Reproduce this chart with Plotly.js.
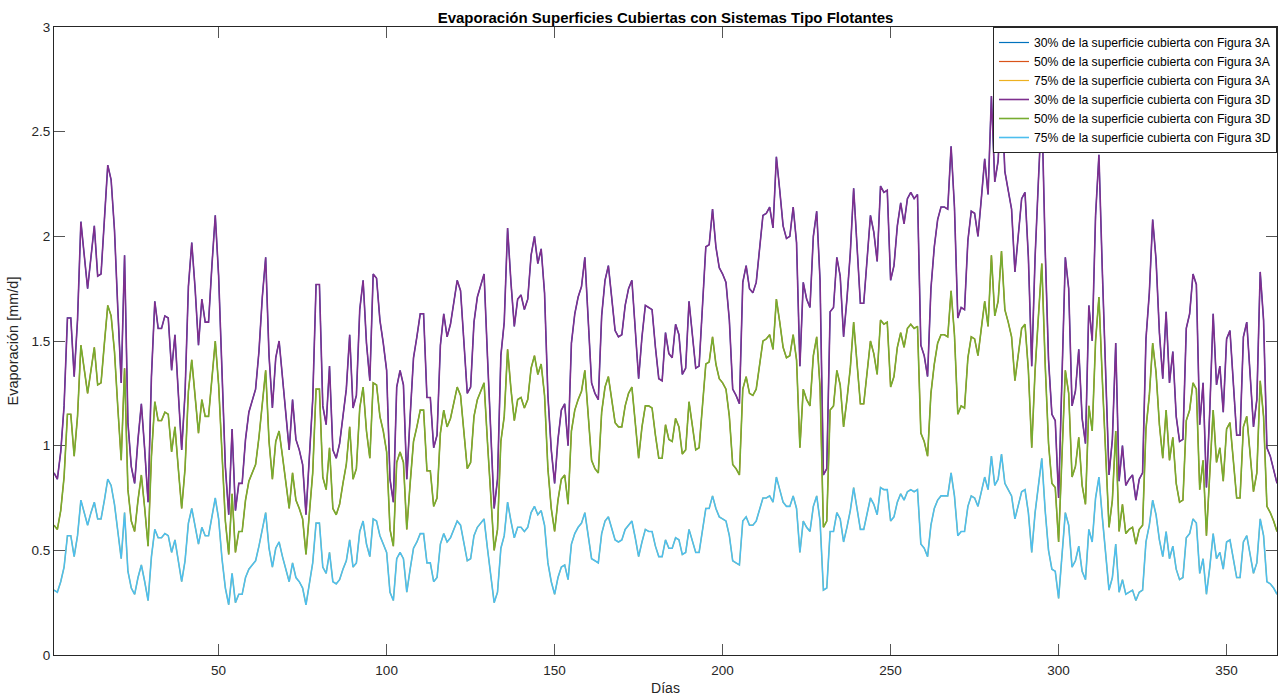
<!DOCTYPE html>
<html>
<head>
<meta charset="utf-8">
<script src="https://cdn.plot.ly/plotly-3.0.1.min.js"></script>
<style>
html,body{margin:0;padding:0;background:#fff;}
#chart{width:1285px;height:698px;}
</style>
</head>
<body>
<div id="chart"></div>
<script>
// Evaporation [mm/d], 30% covered surface
const evap30 = [
0.87,0.84,0.97,1.19,1.61,1.61,1.33,1.60,2.07,1.90,1.75,1.90,2.05,1.81,1.82,2.08,2.34,2.27,2.03,1.65,
1.30,1.91,1.11,0.90,0.82,1.03,1.20,0.98,0.73,1.33,1.69,1.56,1.56,1.62,1.61,1.36,1.53,1.25,0.98,1.25,
1.76,1.97,1.75,1.48,1.70,1.59,1.59,1.86,2.10,1.81,1.30,0.90,0.67,1.08,0.69,0.82,0.82,1.03,1.16,1.21,
1.27,1.45,1.71,1.90,1.43,1.18,1.42,1.50,1.33,1.14,0.98,1.22,1.03,0.98,0.91,0.67,0.97,1.22,1.77,1.77,
1.19,1.10,1.38,0.98,0.94,1.01,1.14,1.27,1.53,1.18,1.24,1.65,1.79,1.49,1.31,1.82,1.80,1.60,1.49,1.36,
0.84,0.73,1.28,1.36,1.29,0.84,1.14,1.42,1.52,1.63,1.63,1.23,1.23,0.99,1.05,1.48,1.63,1.52,1.58,1.69,
1.79,1.74,1.49,1.25,1.28,1.59,1.71,1.76,1.82,1.43,1.05,0.70,0.84,1.43,1.59,2.04,1.78,1.57,1.70,1.72,
1.65,1.70,1.91,2.00,1.87,1.94,1.73,1.24,0.98,0.82,1.03,1.17,1.20,1.00,1.49,1.63,1.71,1.76,1.90,1.59,
1.30,1.25,1.22,1.62,1.79,1.86,1.71,1.55,1.52,1.53,1.67,1.75,1.79,1.56,1.32,1.52,1.67,1.66,1.65,1.47,
1.32,1.31,1.54,1.44,1.42,1.58,1.53,1.34,1.37,1.69,1.52,1.37,1.38,1.67,1.95,1.96,2.13,1.95,1.85,1.82,
1.78,1.60,1.27,1.24,1.20,1.78,1.86,1.75,1.73,1.78,1.95,2.10,2.11,2.14,2.04,2.38,2.22,2.05,1.99,2.00,
2.14,1.97,1.38,1.78,1.70,1.66,2.00,2.12,1.79,0.86,0.89,1.64,1.66,1.90,1.81,1.52,1.70,1.92,2.23,1.94,
1.68,1.68,1.87,2.10,2.02,1.88,2.24,2.21,2.22,1.79,1.86,2.05,2.16,2.06,2.18,2.21,2.18,2.20,1.48,1.43,
1.33,1.75,1.95,2.08,2.14,2.14,2.13,2.43,2.14,1.61,1.66,1.65,1.98,2.12,2.11,2.00,2.18,2.37,2.20,2.67,
2.26,2.36,2.70,2.31,2.22,2.13,1.83,2.02,2.18,2.21,1.90,1.38,1.90,2.27,2.62,1.94,1.41,1.15,1.12,0.75,
1.32,1.90,1.75,1.19,1.26,1.46,1.13,1.01,1.67,1.50,2.10,2.39,1.84,1.32,0.86,1.03,1.49,0.83,1.00,0.81,
0.84,0.86,0.74,0.84,0.87,1.51,1.73,2.08,1.89,1.54,1.32,1.64,1.30,1.45,1.14,1.02,1.03,1.56,1.63,1.82,
1.77,1.10,1.30,0.80,1.17,1.63,1.29,1.38,1.16,1.51,1.55,1.30,1.05,1.05,1.52,1.59,1.32,1.09,1.22,1.83,
1.60,0.99,0.95,0.89,0.82
];
// 50% covered surface
const evap50 = [
0.62,0.60,0.69,0.85,1.15,1.15,0.95,1.14,1.48,1.36,1.25,1.36,1.47,1.29,1.30,1.49,1.67,1.62,1.45,1.18,
0.93,1.37,0.79,0.64,0.59,0.74,0.86,0.70,0.52,0.95,1.21,1.12,1.12,1.16,1.15,0.97,1.09,0.89,0.70,0.89,
1.26,1.41,1.25,1.06,1.22,1.14,1.14,1.33,1.50,1.29,0.93,0.64,0.48,0.77,0.49,0.59,0.59,0.74,0.83,0.87,
0.91,1.04,1.22,1.36,1.02,0.84,1.02,1.07,0.95,0.82,0.70,0.87,0.74,0.70,0.65,0.48,0.69,0.87,1.27,1.27,
0.85,0.79,0.99,0.70,0.67,0.72,0.82,0.91,1.09,0.84,0.89,1.18,1.28,1.07,0.94,1.30,1.29,1.14,1.07,0.97,
0.60,0.52,0.92,0.97,0.92,0.60,0.82,1.02,1.09,1.17,1.17,0.88,0.88,0.71,0.75,1.06,1.17,1.09,1.13,1.21,
1.28,1.24,1.07,0.89,0.92,1.14,1.22,1.26,1.30,1.02,0.75,0.50,0.60,1.02,1.14,1.46,1.27,1.12,1.22,1.23,
1.18,1.22,1.37,1.43,1.34,1.39,1.24,0.89,0.70,0.59,0.74,0.84,0.86,0.72,1.07,1.17,1.22,1.26,1.36,1.14,
0.93,0.89,0.87,1.16,1.28,1.33,1.22,1.11,1.09,1.09,1.19,1.25,1.28,1.12,0.94,1.09,1.19,1.19,1.18,1.05,
0.94,0.94,1.10,1.03,1.02,1.13,1.09,0.96,0.98,1.21,1.09,0.98,0.99,1.19,1.39,1.40,1.52,1.39,1.32,1.30,
1.27,1.14,0.91,0.89,0.86,1.27,1.33,1.25,1.24,1.27,1.39,1.50,1.51,1.53,1.46,1.70,1.59,1.47,1.42,1.43,
1.53,1.41,0.99,1.27,1.22,1.19,1.43,1.52,1.28,0.61,0.64,1.17,1.19,1.36,1.29,1.09,1.22,1.37,1.59,1.39,
1.20,1.20,1.34,1.50,1.44,1.34,1.60,1.58,1.59,1.28,1.33,1.47,1.54,1.47,1.56,1.58,1.56,1.57,1.06,1.02,
0.95,1.25,1.39,1.49,1.53,1.53,1.52,1.74,1.53,1.15,1.19,1.18,1.42,1.52,1.51,1.43,1.56,1.69,1.57,1.91,
1.62,1.69,1.93,1.65,1.59,1.52,1.31,1.44,1.56,1.58,1.36,0.99,1.36,1.62,1.87,1.39,1.01,0.82,0.80,0.54,
0.94,1.36,1.25,0.85,0.90,1.04,0.81,0.72,1.19,1.07,1.50,1.71,1.32,0.94,0.61,0.74,1.07,0.59,0.72,0.58,
0.60,0.61,0.53,0.60,0.62,1.08,1.24,1.49,1.35,1.10,0.94,1.17,0.93,1.04,0.82,0.73,0.74,1.12,1.17,1.30,
1.27,0.79,0.93,0.57,0.84,1.17,0.92,0.99,0.83,1.08,1.11,0.93,0.75,0.75,1.09,1.14,0.94,0.78,0.87,1.31,
1.14,0.71,0.68,0.64,0.59
];
// 75% covered surface
const evap75 = [
0.31,0.30,0.35,0.42,0.57,0.57,0.47,0.57,0.74,0.68,0.62,0.68,0.73,0.65,0.65,0.74,0.84,0.81,0.72,0.59,
0.46,0.68,0.40,0.32,0.29,0.37,0.43,0.35,0.26,0.47,0.60,0.56,0.56,0.58,0.57,0.49,0.55,0.45,0.35,0.45,
0.63,0.70,0.62,0.53,0.61,0.57,0.57,0.66,0.75,0.65,0.46,0.32,0.24,0.39,0.25,0.29,0.29,0.37,0.41,0.43,
0.45,0.52,0.61,0.68,0.51,0.42,0.51,0.54,0.47,0.41,0.35,0.44,0.37,0.35,0.32,0.24,0.35,0.44,0.63,0.63,
0.42,0.39,0.49,0.35,0.34,0.36,0.41,0.45,0.55,0.42,0.44,0.59,0.64,0.53,0.47,0.65,0.64,0.57,0.53,0.49,
0.30,0.26,0.46,0.49,0.46,0.30,0.41,0.51,0.54,0.58,0.58,0.44,0.44,0.35,0.37,0.53,0.58,0.54,0.56,0.60,
0.64,0.62,0.53,0.45,0.46,0.57,0.61,0.63,0.65,0.51,0.37,0.25,0.30,0.51,0.57,0.73,0.64,0.56,0.61,0.61,
0.59,0.61,0.68,0.71,0.67,0.69,0.62,0.44,0.35,0.29,0.37,0.42,0.43,0.36,0.53,0.58,0.61,0.63,0.68,0.57,
0.46,0.45,0.44,0.58,0.64,0.66,0.61,0.55,0.54,0.55,0.60,0.62,0.64,0.56,0.47,0.54,0.60,0.59,0.59,0.52,
0.47,0.47,0.55,0.51,0.51,0.56,0.55,0.48,0.49,0.60,0.54,0.49,0.49,0.60,0.70,0.70,0.76,0.70,0.66,0.65,
0.64,0.57,0.45,0.44,0.43,0.64,0.66,0.62,0.62,0.64,0.70,0.75,0.75,0.76,0.73,0.85,0.79,0.73,0.71,0.71,
0.76,0.70,0.49,0.64,0.61,0.59,0.71,0.76,0.64,0.31,0.32,0.59,0.59,0.68,0.65,0.54,0.61,0.69,0.80,0.69,
0.60,0.60,0.67,0.75,0.72,0.67,0.80,0.79,0.79,0.64,0.66,0.73,0.77,0.74,0.78,0.79,0.78,0.79,0.53,0.51,
0.47,0.62,0.70,0.74,0.76,0.76,0.76,0.87,0.76,0.57,0.59,0.59,0.71,0.76,0.75,0.71,0.78,0.85,0.79,0.95,
0.81,0.84,0.96,0.82,0.79,0.76,0.65,0.72,0.78,0.79,0.68,0.49,0.68,0.81,0.94,0.69,0.50,0.41,0.40,0.27,
0.47,0.68,0.62,0.42,0.45,0.52,0.40,0.36,0.60,0.54,0.75,0.85,0.66,0.47,0.31,0.37,0.53,0.30,0.36,0.29,
0.30,0.31,0.26,0.30,0.31,0.54,0.62,0.74,0.67,0.55,0.47,0.59,0.46,0.52,0.41,0.36,0.37,0.56,0.58,0.65,
0.63,0.39,0.46,0.29,0.42,0.58,0.46,0.49,0.41,0.54,0.55,0.46,0.37,0.37,0.54,0.57,0.47,0.39,0.44,0.65,
0.57,0.35,0.34,0.32,0.29
];
const days = evap30.map((_, i) => i + 1);

const seriesNames = [
  '30% de la superficie cubierta con Figura 3A',
  '50% de la superficie cubierta con Figura 3A',
  '75% de la superficie cubierta con Figura 3A',
  '30% de la superficie cubierta con Figura 3D',
  '50% de la superficie cubierta con Figura 3D',
  '75% de la superficie cubierta con Figura 3D'
];
const seriesData = [evap30, evap50, evap75, evap30, evap50, evap75];
const seriesColors = ['#0072BD', '#D95319', '#EDB120', '#7E2F8E', '#77AC30', '#4DBEEE'];
const seriesWidths = [1.2, 1.2, 1.2, 1.6, 1.6, 1.6];

const traces = seriesNames.map((name, i) => ({
  x: days,
  y: seriesData[i],
  name: name,
  type: 'scatter',
  mode: 'lines',
  line: {color: seriesColors[i], width: seriesWidths[i]}
}));

const axisColor = '#262626';
const layout = {
  width: 1285,
  height: 698,
  margin: {l: 54, r: 8, t: 27, b: 43},
  paper_bgcolor: '#ffffff',
  plot_bgcolor: '#ffffff',
  font: {family: 'Liberation Sans, Arial, sans-serif', size: 13, color: axisColor},
  title: {
    text: '<b>Evaporación Superficies Cubiertas con Sistemas Tipo Flotantes</b>',
    font: {size: 15, color: '#000000'},
    x: 0.5, xref: 'paper', xanchor: 'center',
    y: 1, yref: 'paper', yanchor: 'bottom', pad: {b: 4}
  },
  xaxis: {
    range: [1, 365],
    tickvals: [50, 100, 150, 200, 250, 300, 350],
    ticks: 'inside', ticklen: 11, tickwidth: 1, tickcolor: '#555555',
    showline: true, linecolor: axisColor, linewidth: 1, mirror: 'ticks',
    showgrid: false, zeroline: false,
    ticklabelstandoff: 3,
    tickfont: {size: 13.5, color: axisColor},
    title: {text: 'Días', font: {size: 14, color: axisColor}, standoff: 5}
  },
  yaxis: {
    range: [0, 3],
    tickvals: [0, 0.5, 1, 1.5, 2, 2.5, 3],
    ticks: 'inside', ticklen: 11, tickwidth: 1, tickcolor: '#555555',
    showline: true, linecolor: axisColor, linewidth: 1, mirror: 'ticks',
    showgrid: false, zeroline: false,
    tickfont: {size: 13.5, color: axisColor},
    title: {text: 'Evaporación [mm/d]', font: {size: 14.5, color: axisColor}, standoff: 9}
  },
  showlegend: true,
  legend: {
    x: 1, y: 1, xanchor: 'right', yanchor: 'top',
    bgcolor: '#ffffff', bordercolor: axisColor, borderwidth: 1,
    font: {size: 12.2, color: '#000000'},
    tracegroupgap: 0,
    itemwidth: 30
  }
};

Plotly.newPlot('chart', traces, layout, {displayModeBar: false, staticPlot: true});
</script>
</body>
</html>
